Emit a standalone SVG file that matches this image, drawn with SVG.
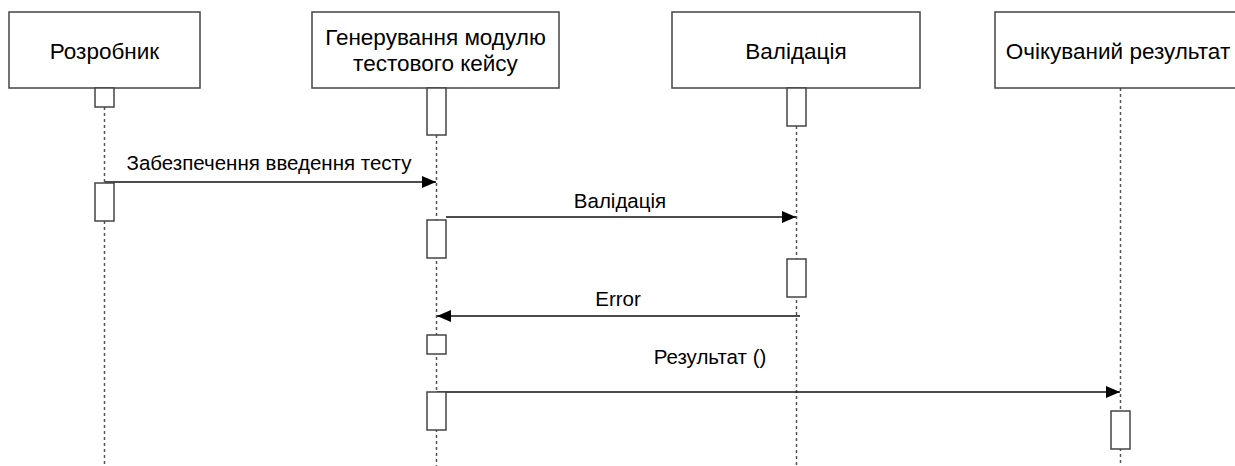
<svg xmlns="http://www.w3.org/2000/svg" width="1235" height="466" viewBox="0 0 1235 466">
<style>
.hdr{fill:#fff;stroke:#444;stroke-width:1.5}
.act{fill:#fff;stroke:#444;stroke-width:1.5}
.life{stroke:#555;stroke-width:1.5;stroke-dasharray:3 3;fill:none}
.msg{stroke:#111;stroke-width:1.4;fill:none}
.ht{font-family:"Liberation Sans",Arial,sans-serif;font-size:22.5px;fill:#000;text-anchor:middle}
.lt{font-family:"Liberation Sans",Arial,sans-serif;font-size:20.5px;fill:#000;text-anchor:middle}
</style>
<defs>
<marker id="ah" viewBox="0 0 14 12" refX="14" refY="6" markerWidth="14" markerHeight="12" markerUnits="userSpaceOnUse" orient="auto">
<path d="M0,0 L14,6 L0,12 Z" fill="#000"/>
</marker>
</defs>
<rect width="1235" height="466" fill="#fff"/>
<g id="connectors">
<line class="life" x1="104.5" y1="107" x2="104.5" y2="466"/>
<line class="life" x1="436.5" y1="135" x2="436.5" y2="466"/>
<line class="life" x1="796.5" y1="126" x2="796.5" y2="466"/>
<line class="life" x1="1120.5" y1="88" x2="1120.5" y2="466"/>
<line class="msg" x1="105" y1="182" x2="436" y2="182" marker-end="url(#ah)"/>
<line class="msg" x1="446" y1="217" x2="796" y2="217" marker-end="url(#ah)"/>
<line class="msg" x1="800" y1="316" x2="437" y2="316" marker-end="url(#ah)"/>
<line class="msg" x1="437" y1="392" x2="1120" y2="392" marker-end="url(#ah)"/>
<text class="lt" x="269" y="170">Забезпечення введення тесту</text>
<text class="lt" x="620" y="208">Валідація</text>
<text class="lt" x="618" y="306">Error</text>
<text class="lt" x="710" y="364">Результат ()</text>
</g>
<g id="node-developer">
<rect class="hdr" x="9" y="12" width="191" height="76"/>
<text class="ht" x="104.5" y="59">Розробник</text>
<rect class="act" x="95" y="88" width="19" height="19"/>
<rect class="act" x="95" y="183" width="19" height="38"/>
</g>
<g id="node-generator">
<rect class="hdr" x="312" y="12" width="247" height="76"/>
<text class="ht" x="435.5" y="45">Генерування модулю</text>
<text class="ht" x="435.5" y="71">тестового кейсу</text>
<rect class="act" x="427" y="88" width="19" height="47"/>
<rect class="act" x="427" y="220" width="19" height="38"/>
<rect class="act" x="427" y="335" width="19" height="19"/>
<rect class="act" x="427" y="392" width="19" height="38"/>
</g>
<g id="node-validation">
<rect class="hdr" x="672" y="12" width="248" height="76"/>
<text class="ht" x="796" y="59">Валідація</text>
<rect class="act" x="787" y="88" width="19" height="38"/>
<rect class="act" x="787" y="259" width="19" height="38"/>
</g>
<g id="node-expected">
<rect class="hdr" x="995" y="12" width="251" height="76"/>
<text class="ht" x="1118" y="59">Очікуваний результат</text>
<rect class="act" x="1111" y="411" width="19" height="38"/>
</g>
</svg>
